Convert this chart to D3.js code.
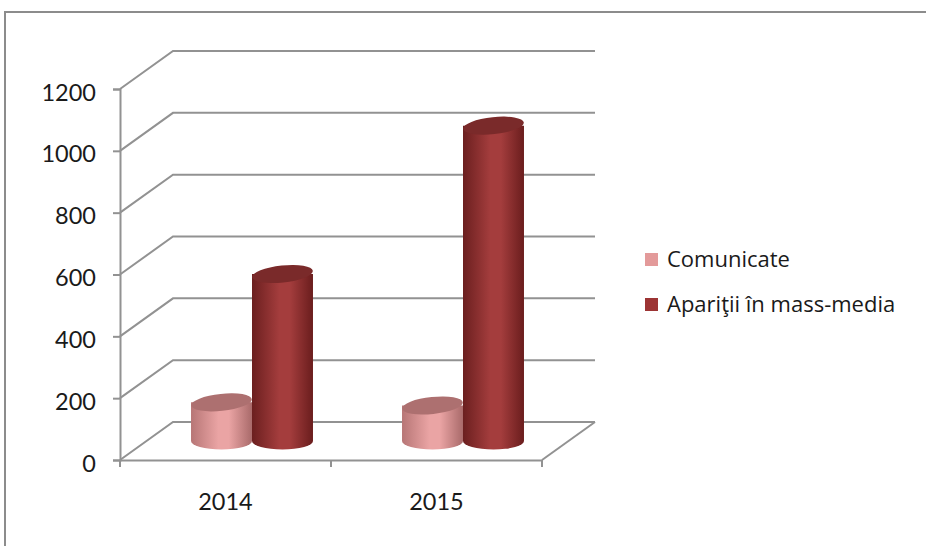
<!DOCTYPE html>
<html>
<head>
<meta charset="utf-8">
<script src="https://cdn.jsdelivr.net/npm/d3@7"></script>
<style>
  body { margin: 0; background: #fff; }
  text { font-family: Lato, "Open Sans", sans-serif; fill: #1a1a1a; }
</style>
</head>
<body>
<script>
const years = ['2014', '2015'];
const series = ['Comunicate', 'Apariţii în mass-media'];
const comunicate = [125, 115];
const aparitii = [540, 1020];
const yTicks = [0, 200, 400, 600, 800, 1000, 1200];

const colors = {
	'Comunicate': {edge: '#b77676', mid: '#eaa4a4', dark: '#a96a6a', top: '#ad7070', legend: '#e39a9a'},
	'Apariţii în mass-media': {edge: '#6b1f1f', mid: '#a43d3d', dark: '#6a1d1d', top: '#7a2a2a', legend: '#9c3434'}
};

const svgSize = {'width': 926, 'height': 546};
const plot = {left: 120, right: 542, top: 89, bottom: 460};
const depth = {dx: 53, dy: -38};

const svg = d3.select('body').append('svg')
	.attr('width', svgSize.width)
	.attr('height', svgSize.height);

// outer frame (only left and top visible)
svg.append('path')
	.attr('d', 'M5,546 L5,12 L926,12')
	.attr('fill', 'none')
	.attr('stroke', '#8c8c8c')
	.attr('stroke-width', 2);

const x = d3.scaleBand().domain(years).range([plot.left, plot.right]);
const x1 = d3.scaleBand().domain(series).range([0, x.bandwidth()]).paddingOuter(0.73);
const y = d3.scaleLinear().domain([0, 1200]).range([plot.bottom, plot.top]);

const table = years.map((yr, i) => ({year: yr, values: [
	{name: series[0], value: comunicate[i]},
	{name: series[1], value: aparitii[i]}
]}));

// gradients
const defs = svg.append('defs');
series.forEach((s, i) => {
	const g = defs.append('linearGradient').attr('id', 'grad' + i)
		.attr('x1', 0).attr('x2', 1).attr('y1', 0).attr('y2', 0);
	g.append('stop').attr('offset', '0%').attr('stop-color', colors[s].edge);
	g.append('stop').attr('offset', '45%').attr('stop-color', colors[s].mid);
	g.append('stop').attr('offset', '62%').attr('stop-color', colors[s].mid);
	g.append('stop').attr('offset', '100%').attr('stop-color', colors[s].dark);
});

// back wall gridlines with side wall diagonals
const grid = svg.append('g').attr('fill', 'none').attr('stroke', '#929292').attr('stroke-width', 2);
grid.selectAll('path')
	.data(yTicks)
	.enter()
	.append('path')
	.attr('d', d => `M${plot.left},${y(d)} L${plot.left + depth.dx},${y(d) + depth.dy} L${plot.right + depth.dx},${y(d) + depth.dy}`);

// floor right edge
grid.append('path')
	.attr('d', `M${plot.right},${plot.bottom} L${plot.right + depth.dx},${plot.bottom + depth.dy}`);

// axes
const yAxisG = svg.append('g')
	.attr('transform', `translate(${plot.left},0)`)
	.call(d3.axisLeft(y).tickValues(yTicks).tickFormat(d3.format('d')).tickSize(7).tickPadding(17));
yAxisG.select('.domain').attr('stroke', '#929292').attr('stroke-width', 2);
yAxisG.selectAll('.tick line').attr('stroke', '#929292').attr('stroke-width', 2);
yAxisG.selectAll('.tick text').attr('font-size', 23.5).attr('dy', 11).attr('fill', '#1a1a1a')
	.style('font-family', 'Lato, sans-serif');

const xAxisG = svg.append('g')
	.attr('transform', `translate(0,${plot.bottom})`)
	.call(d3.axisBottom(x).tickSize(0).tickPadding(0));
xAxisG.select('.domain').attr('stroke', '#929292').attr('stroke-width', 2);
xAxisG.selectAll('.tick line').remove();
xAxisG.selectAll('.tick text').attr('font-size', 23.5).attr('y', 50).attr('dy', 0).attr('fill', '#1a1a1a')
	.style('font-family', 'Lato, sans-serif');
// category boundary ticks
xAxisG.selectAll('.cat-tick')
	.data([...years.map(d => x(d)), plot.right])
	.enter()
	.append('line')
	.attr('x1', d => d).attr('x2', d => d)
	.attr('y1', 0).attr('y2', 7)
	.attr('stroke', '#929292').attr('stroke-width', 2);

// cylinders at mid depth
const mid = {dx: depth.dx / 2, dy: depth.dy / 2};
const ry = 8.5;
const base = plot.bottom + mid.dy;
const valueY = v => y(v) + mid.dy;

const cyl = svg.append('g').selectAll('g')
	.data(table)
	.enter()
	.append('g')
	.attr('transform', d => `translate(${x(d.year) + mid.dx},0)`)
	.selectAll('g')
	.data(d => d.values)
	.enter()
	.append('g');

cyl.append('path')
	.attr('d', d => {
		const l = x1(d.name), r = l + x1.bandwidth(), rx = x1.bandwidth() / 2;
		const t = valueY(d.value);
		return `M${l},${t} L${l},${base} A${rx},${ry} 0 0 0 ${r},${base} L${r},${t} Z`;
	})
	.attr('fill', d => `url(#grad${series.indexOf(d.name)})`);

cyl.append('ellipse')
	.attr('cx', d => x1(d.name) + x1.bandwidth() / 2)
	.attr('cy', d => valueY(d.value))
	.attr('rx', x1.bandwidth() / 2)
	.attr('ry', ry)
	.attr('transform', d => `rotate(-6,${x1(d.name) + x1.bandwidth() / 2},${valueY(d.value)})`)
	.attr('fill', d => colors[d.name].top);

// legend
const legend = svg.append('g').selectAll('g')
	.data(series)
	.enter()
	.append('g')
	.attr('transform', (d, i) => `translate(645,${253 + i * 45})`);

legend.append('rect')
	.attr('width', 13).attr('height', 13)
	.attr('fill', d => colors[d].legend);

legend.append('text')
	.attr('x', 22).attr('y', 14)
	.attr('font-size', 22)
	.style('font-family', '"Open Sans", sans-serif')
	.text(d => d);
</script>
</body>
</html>
